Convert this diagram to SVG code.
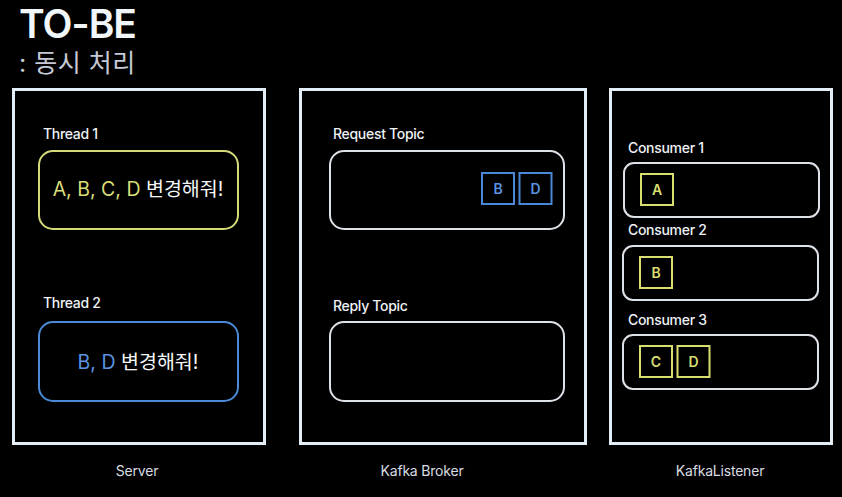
<svg xmlns="http://www.w3.org/2000/svg" width="842" height="497" viewBox="0 0 842 497">
<style>
text{font-family:Inter,"Noto Sans CJK KR","Noto Sans",sans-serif}
.panel{fill:none;stroke:#e4eef6;stroke-width:3}
.lbl{fill:#eef2f6;font-size:14px;font-weight:500;letter-spacing:-0.3px}
.cap{fill:#d8dce2;font-size:14px;text-anchor:middle;letter-spacing:-0.2px}
.topic{fill:none;stroke:#dde2e8;stroke-width:2}
.ysq{fill:none;stroke:#d8de70;stroke-width:2}
.bsq{fill:none;stroke:#4a88d8;stroke-width:2}
.ytx{fill:#d8de70;font-size:14px;font-weight:600;text-anchor:middle}
.btx{fill:#5a94e0;font-size:14px;font-weight:600;text-anchor:middle}
.msg{font-size:19.5px;text-anchor:middle;fill:#f4f6f8}
</style>
<rect width="842" height="497" fill="#000"/>
<text x="19" y="38" font-size="39" font-weight="600" letter-spacing="-1" fill="#f0f6fa">TO-BE</text>
<text x="19" y="72" font-size="25" letter-spacing="0.5" fill="#c6cad6">: 동시 처리</text>

<g id="server">
<rect class="panel" x="13.5" y="89.5" width="251" height="354"/>
<text class="cap" x="137" y="476">Server</text>
</g>
<g id="thread1">
<text class="lbl" x="43" y="139">Thread 1</text>
<rect x="39" y="151" width="199" height="78" rx="14" fill="none" stroke="#d4da78" stroke-width="2"/>
<text class="msg" x="138" y="196"><tspan fill="#d8de78">A, B, C, D</tspan> 변경해줘!</text>
</g>
<g id="thread2">
<text class="lbl" x="43" y="308">Thread 2</text>
<rect x="39" y="322" width="199" height="79" rx="14" fill="none" stroke="#4a8ad8" stroke-width="2"/>
<text class="msg" x="138" y="369"><tspan fill="#5a94e0">B, D</tspan> 변경해줘!</text>
</g>

<g id="broker">
<rect class="panel" x="300.5" y="89.5" width="285" height="354"/>
<text class="cap" x="422" y="476">Kafka Broker</text>
</g>
<g id="request-topic">
<text class="lbl" x="333" y="139">Request Topic</text>
<rect class="topic" x="330" y="151" width="234" height="78" rx="14"/>
<rect class="bsq" x="482" y="173" width="32" height="31"/>
<text class="btx" x="498" y="194">B</text>
<rect class="bsq" x="519.5" y="173" width="32" height="31"/>
<text class="btx" x="535.5" y="194">D</text>
</g>
<g id="reply-topic">
<text class="lbl" x="333" y="311">Reply Topic</text>
<rect class="topic" x="330" y="322" width="234" height="79" rx="14"/>
</g>

<g id="listener">
<rect class="panel" x="610.5" y="89.5" width="221" height="354"/>
<text class="cap" x="720" y="476">KafkaListener</text>
</g>
<g id="consumer1">
<text class="lbl" x="628" y="153">Consumer 1</text>
<rect class="topic" x="624" y="163" width="195" height="54" rx="10"/>
<rect class="ysq" x="641" y="174" width="32" height="31"/>
<text class="ytx" x="657" y="195">A</text>
</g>
<g id="consumer2">
<text class="lbl" x="628" y="235">Consumer 2</text>
<rect class="topic" x="623" y="246" width="195" height="54" rx="10"/>
<rect class="ysq" x="640" y="257" width="32" height="31"/>
<text class="ytx" x="656" y="278">B</text>
</g>
<g id="consumer3">
<text class="lbl" x="628" y="325">Consumer 3</text>
<rect class="topic" x="623" y="335" width="195" height="54" rx="10"/>
<rect class="ysq" x="640" y="346" width="32" height="31"/>
<text class="ytx" x="656" y="367">C</text>
<rect class="ysq" x="677.5" y="346" width="32" height="31"/>
<text class="ytx" x="693.5" y="367">D</text>
</g>
<g id="connectors"></g>
</svg>
